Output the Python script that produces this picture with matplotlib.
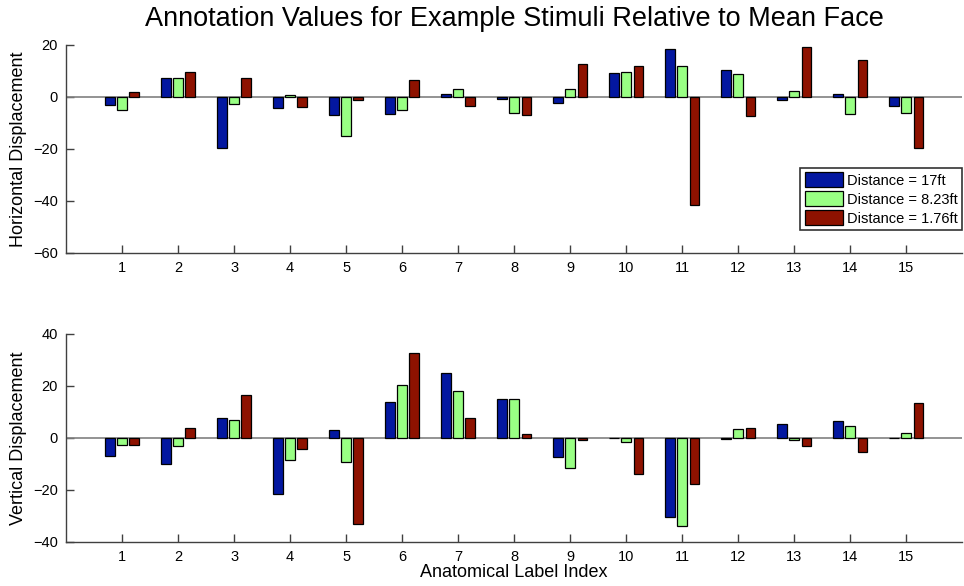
import numpy as np
import matplotlib.pyplot as plt

plt.rcParams['font.family'] = ['Liberation Sans', 'DejaVu Sans']

# anatomical label index 1..15
labels = list(range(1, 16))
series_names = ['Distance = 17ft', 'Distance = 8.23ft', 'Distance = 1.76ft']
colors = ['#0317A0', '#99FF84', '#8E1200']

# horizontal displacement per distance
h_17 = [-3.1, 7.4, -19.6, -4.2, -6.8, -6.7, 1.2, -0.8, -2.3, 9.1, 18.6, 10.4, -1.0, 1.0, -3.5]
h_823 = [-4.9, 7.3, -2.8, 0.9, -14.9, -5.1, 2.9, -6.0, 3.2, 9.6, 11.9, 9.0, 2.1, -6.4, -6.3]
h_176 = [1.8, 9.7, 7.1, -3.7, -1.0, 6.7, -3.5, -6.8, 12.6, 11.9, -41.4, -7.3, 19.4, 14.2, -19.5]

# vertical displacement per distance
v_17 = [-6.8, -9.9, 7.6, -21.5, 2.9, 13.7, 24.9, 15.1, -7.2, -0.2, -30.4, -0.3, 5.3, 6.4, -0.2]
v_823 = [-2.8, -3.1, 7.1, -8.3, -9.4, 20.5, 18.2, 15.0, -11.4, -1.5, -33.7, 3.3, -0.8, 4.6, 2.1]
v_176 = [-2.7, 4.0, 16.4, -4.1, -33.2, 32.8, 7.6, 1.4, -0.6, -13.8, -17.7, 4.0, -3.1, -5.3, 13.3]

x = np.array(labels)
offsets = [-0.222, 0.0, 0.222]
w = 0.178

fig = plt.figure(figsize=(9.64, 5.86), dpi=100)
ax1 = fig.add_axes([0.0685, 0.5683, 0.9295, 0.355])
ax2 = fig.add_axes([0.0685, 0.0751, 0.9295, 0.355])

def draw(ax, data, ylim, yticks):
    for d, off, c, name in zip(data, offsets, colors, series_names):
        ax.bar(x + off, d, width=w, color=c, edgecolor='black', linewidth=0.9, label=name, zorder=3)
    ax.axhline(0, color='#808080', linewidth=1.2, zorder=2)
    ax.set_xlim(0, 16)
    ax.set_ylim(*ylim)
    ax.set_xticks(labels)
    ax.set_yticks(yticks)
    ax.set_yticklabels([str(t).replace('-', '\u2212') for t in yticks])
    for s in ['top', 'right']:
        ax.spines[s].set_visible(False)
    for s in ['left', 'bottom']:
        ax.spines[s].set_color('#404040')
        ax.spines[s].set_linewidth(1.0)
    ax.tick_params(direction='in', length=6, width=1.0, color='#404040', labelsize=10.5, pad=6)

draw(ax1, [h_17, h_823, h_176], (-60, 20), [-60, -40, -20, 0, 20])
draw(ax2, [v_17, v_823, v_176], (-40, 40), [-40, -20, 0, 20, 40])

ax1.set_ylabel('Horizontal Displacement', fontsize=13, labelpad=4)
ax2.set_ylabel('Vertical Displacement', fontsize=13, labelpad=4)
ax2.set_xlabel('Anatomical Label Index', fontsize=13, labelpad=0)
fig.suptitle('Annotation Values for Example Stimuli Relative to Mean Face', fontsize=19.5, x=0.534, y=0.99)

leg = ax1.legend(loc='lower right', bbox_to_anchor=(1.0, 0.11), fontsize=10.5,
                 frameon=True, fancybox=False, edgecolor='black', handlelength=2.6,
                 handleheight=1.2, labelspacing=0.25, borderpad=0.3, handletextpad=0.3,
                 borderaxespad=0)
leg.get_frame().set_linewidth(1.2)

plt.savefig('out.png', dpi=100)
